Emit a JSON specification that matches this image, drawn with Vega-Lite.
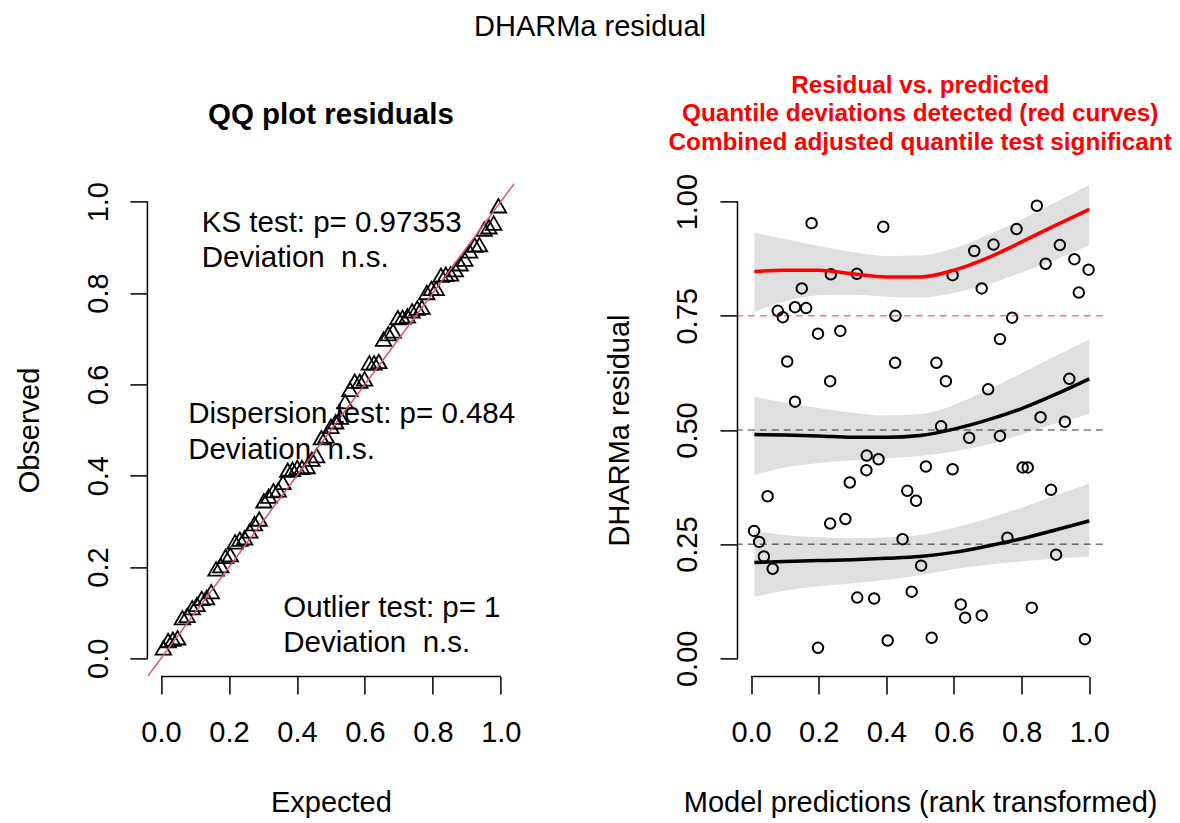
{
  "$schema": "https://vega.github.io/schema/vega-lite/v6.json",
  "autosize": {"type": "none"},
  "padding": {"left": 147.4, "top": 183.4, "right": 1032.6, "bottom": 639.6},
  "background": "white",
  "title": {"text": "DHARMa residual", "fontSize": 29, "fontWeight": "normal", "font": "Liberation Sans", "color": "black", "anchor": "start", "align": "center", "frame": "group", "dx": 442.6, "offset": 3.5, "baseline": "bottom"},
  "bounds": "flush",
  "spacing": 223.1,
  "datasets": {
    "qq": [
      {"e": 0.007, "o": 0.023}, {"e": 0.021, "o": 0.039}, {"e": 0.035, "o": 0.042}, {"e": 0.049, "o": 0.045},
      {"e": 0.063, "o": 0.089}, {"e": 0.077, "o": 0.094}, {"e": 0.092, "o": 0.111}, {"e": 0.106, "o": 0.118},
      {"e": 0.120, "o": 0.131}, {"e": 0.134, "o": 0.133}, {"e": 0.148, "o": 0.146}, {"e": 0.162, "o": 0.196},
      {"e": 0.176, "o": 0.203}, {"e": 0.190, "o": 0.223}, {"e": 0.204, "o": 0.227}, {"e": 0.218, "o": 0.255},
      {"e": 0.232, "o": 0.261}, {"e": 0.246, "o": 0.264}, {"e": 0.261, "o": 0.279}, {"e": 0.275, "o": 0.295},
      {"e": 0.289, "o": 0.305}, {"e": 0.303, "o": 0.345}, {"e": 0.317, "o": 0.355}, {"e": 0.331, "o": 0.367},
      {"e": 0.345, "o": 0.369}, {"e": 0.359, "o": 0.385}, {"e": 0.373, "o": 0.412}, {"e": 0.387, "o": 0.414},
      {"e": 0.401, "o": 0.418}, {"e": 0.415, "o": 0.418}, {"e": 0.430, "o": 0.420}, {"e": 0.444, "o": 0.436},
      {"e": 0.458, "o": 0.444}, {"e": 0.472, "o": 0.483}, {"e": 0.486, "o": 0.487}, {"e": 0.500, "o": 0.508},
      {"e": 0.514, "o": 0.518}, {"e": 0.528, "o": 0.528}, {"e": 0.542, "o": 0.562}, {"e": 0.556, "o": 0.589},
      {"e": 0.570, "o": 0.607}, {"e": 0.585, "o": 0.607}, {"e": 0.599, "o": 0.612}, {"e": 0.613, "o": 0.647},
      {"e": 0.627, "o": 0.647}, {"e": 0.641, "o": 0.650}, {"e": 0.655, "o": 0.699}, {"e": 0.669, "o": 0.711},
      {"e": 0.683, "o": 0.717}, {"e": 0.697, "o": 0.746}, {"e": 0.711, "o": 0.747}, {"e": 0.725, "o": 0.750},
      {"e": 0.739, "o": 0.761}, {"e": 0.754, "o": 0.767}, {"e": 0.768, "o": 0.769}, {"e": 0.782, "o": 0.801},
      {"e": 0.796, "o": 0.810}, {"e": 0.810, "o": 0.810}, {"e": 0.824, "o": 0.839}, {"e": 0.838, "o": 0.841},
      {"e": 0.852, "o": 0.842}, {"e": 0.866, "o": 0.851}, {"e": 0.880, "o": 0.864}, {"e": 0.894, "o": 0.874},
      {"e": 0.908, "o": 0.892}, {"e": 0.923, "o": 0.905}, {"e": 0.937, "o": 0.906}, {"e": 0.951, "o": 0.940},
      {"e": 0.965, "o": 0.945}, {"e": 0.979, "o": 0.953}, {"e": 0.993, "o": 0.991}
    ],
    "qqline": [{"x": -0.04, "y": -0.04}, {"x": 1.04, "y": 1.04}],
    "qqtext": [
      {"x": 0.12, "y": 0.934, "label": "KS test: p= 0.97353"},
      {"x": 0.12, "y": 0.856, "label": "Deviation \u00a0n.s."},
      {"x": 0.08, "y": 0.516, "label": "Dispersion test: p= 0.484"},
      {"x": 0.08, "y": 0.436, "label": "Deviation \u00a0n.s."},
      {"x": 0.36, "y": 0.091, "label": "Outlier test: p= 1"},
      {"x": 0.36, "y": 0.0145, "label": "Deviation \u00a0n.s."}
    ],
    "res": [
      {"p": 0.179, "r": 0.953}, {"p": 0.391, "r": 0.945}, {"p": 0.236, "r": 0.841}, {"p": 0.313, "r": 0.842},
      {"p": 0.150, "r": 0.810}, {"p": 0.130, "r": 0.769}, {"p": 0.163, "r": 0.767}, {"p": 0.079, "r": 0.761},
      {"p": 0.094, "r": 0.747}, {"p": 0.427, "r": 0.750}, {"p": 0.198, "r": 0.711}, {"p": 0.264, "r": 0.717},
      {"p": 0.107, "r": 0.650}, {"p": 0.426, "r": 0.647}, {"p": 0.234, "r": 0.607}, {"p": 0.130, "r": 0.562},
      {"p": 0.845, "r": 0.991}, {"p": 0.785, "r": 0.940}, {"p": 0.717, "r": 0.906}, {"p": 0.660, "r": 0.892},
      {"p": 0.913, "r": 0.905}, {"p": 0.956, "r": 0.874}, {"p": 0.998, "r": 0.851}, {"p": 0.871, "r": 0.864},
      {"p": 0.596, "r": 0.839}, {"p": 0.682, "r": 0.810}, {"p": 0.969, "r": 0.801}, {"p": 0.772, "r": 0.746},
      {"p": 0.736, "r": 0.699}, {"p": 0.548, "r": 0.647}, {"p": 0.576, "r": 0.607}, {"p": 0.701, "r": 0.589},
      {"p": 0.941, "r": 0.612}, {"p": 0.856, "r": 0.528}, {"p": 0.928, "r": 0.518}, {"p": 0.562, "r": 0.508},
      {"p": 0.342, "r": 0.444}, {"p": 0.377, "r": 0.436}, {"p": 0.341, "r": 0.412}, {"p": 0.292, "r": 0.385},
      {"p": 0.049, "r": 0.355}, {"p": 0.462, "r": 0.367}, {"p": 0.488, "r": 0.345}, {"p": 0.234, "r": 0.295},
      {"p": 0.279, "r": 0.305}, {"p": 0.009, "r": 0.279}, {"p": 0.024, "r": 0.255}, {"p": 0.448, "r": 0.261},
      {"p": 0.038, "r": 0.223}, {"p": 0.064, "r": 0.196}, {"p": 0.314, "r": 0.133}, {"p": 0.364, "r": 0.131},
      {"p": 0.475, "r": 0.146}, {"p": 0.404, "r": 0.039}, {"p": 0.198, "r": 0.023}, {"p": 0.503, "r": 0.203},
      {"p": 0.645, "r": 0.483}, {"p": 0.736, "r": 0.487}, {"p": 0.517, "r": 0.420}, {"p": 0.596, "r": 0.414},
      {"p": 0.803, "r": 0.418}, {"p": 0.818, "r": 0.418}, {"p": 0.887, "r": 0.369}, {"p": 0.758, "r": 0.264},
      {"p": 0.902, "r": 0.227}, {"p": 0.620, "r": 0.118}, {"p": 0.633, "r": 0.089}, {"p": 0.682, "r": 0.094},
      {"p": 0.830, "r": 0.111}, {"p": 0.534, "r": 0.045}, {"p": 0.987, "r": 0.042}
    ],
    "hl": [{"q": 0.25}, {"q": 0.5}, {"q": 0.75}],
    "band": [
      {"q": 0.75, "x": 0.01, "fit": 0.847, "hi": 0.932, "lo": 0.759},
      {"q": 0.75, "x": 0.1, "fit": 0.850, "hi": 0.918, "lo": 0.782},
      {"q": 0.75, "x": 0.2, "fit": 0.850, "hi": 0.903, "lo": 0.795},
      {"q": 0.75, "x": 0.3, "fit": 0.842, "hi": 0.890, "lo": 0.796},
      {"q": 0.75, "x": 0.4, "fit": 0.835, "hi": 0.881, "lo": 0.792},
      {"q": 0.75, "x": 0.5, "fit": 0.835, "hi": 0.882, "lo": 0.790},
      {"q": 0.75, "x": 0.6, "fit": 0.850, "hi": 0.898, "lo": 0.800},
      {"q": 0.75, "x": 0.7, "fit": 0.877, "hi": 0.927, "lo": 0.819},
      {"q": 0.75, "x": 0.8, "fit": 0.912, "hi": 0.961, "lo": 0.845},
      {"q": 0.75, "x": 0.9, "fit": 0.948, "hi": 0.998, "lo": 0.873},
      {"q": 0.75, "x": 1.0, "fit": 0.983, "hi": 1.037, "lo": 0.905},
      {"q": 0.5, "x": 0.01, "fit": 0.490, "hi": 0.573, "lo": 0.401},
      {"q": 0.5, "x": 0.1, "fit": 0.489, "hi": 0.560, "lo": 0.418},
      {"q": 0.5, "x": 0.2, "fit": 0.487, "hi": 0.548, "lo": 0.428},
      {"q": 0.5, "x": 0.3, "fit": 0.484, "hi": 0.538, "lo": 0.434},
      {"q": 0.5, "x": 0.4, "fit": 0.484, "hi": 0.532, "lo": 0.438},
      {"q": 0.5, "x": 0.5, "fit": 0.488, "hi": 0.535, "lo": 0.443},
      {"q": 0.5, "x": 0.6, "fit": 0.502, "hi": 0.555, "lo": 0.453},
      {"q": 0.5, "x": 0.7, "fit": 0.522, "hi": 0.588, "lo": 0.468},
      {"q": 0.5, "x": 0.8, "fit": 0.547, "hi": 0.625, "lo": 0.490},
      {"q": 0.5, "x": 0.9, "fit": 0.578, "hi": 0.662, "lo": 0.514},
      {"q": 0.5, "x": 1.0, "fit": 0.612, "hi": 0.698, "lo": 0.535},
      {"q": 0.25, "x": 0.01, "fit": 0.210, "hi": 0.279, "lo": 0.135},
      {"q": 0.25, "x": 0.1, "fit": 0.212, "hi": 0.270, "lo": 0.148},
      {"q": 0.25, "x": 0.2, "fit": 0.214, "hi": 0.265, "lo": 0.158},
      {"q": 0.25, "x": 0.3, "fit": 0.216, "hi": 0.263, "lo": 0.164},
      {"q": 0.25, "x": 0.4, "fit": 0.219, "hi": 0.265, "lo": 0.172},
      {"q": 0.25, "x": 0.5, "fit": 0.223, "hi": 0.270, "lo": 0.182},
      {"q": 0.25, "x": 0.6, "fit": 0.232, "hi": 0.286, "lo": 0.195},
      {"q": 0.25, "x": 0.7, "fit": 0.246, "hi": 0.306, "lo": 0.205},
      {"q": 0.25, "x": 0.8, "fit": 0.262, "hi": 0.330, "lo": 0.212},
      {"q": 0.25, "x": 0.9, "fit": 0.281, "hi": 0.357, "lo": 0.218},
      {"q": 0.25, "x": 1.0, "fit": 0.301, "hi": 0.383, "lo": 0.223}
    ]
  },
  "hconcat": [
    {
      "width": 367,
      "height": 493.2,
      "title": {"text": "QQ plot residuals", "fontSize": 29.5, "fontWeight": "bold", "font": "Liberation Sans", "color": "black", "baseline": "bottom", "offset": 22, "anchor": "middle"},
      "layer": [
        {
          "data": {"name": "qq"},
          "mark": {"type": "point", "shape": "triangle-up", "size": 240, "filled": false, "stroke": "black", "strokeWidth": 1.8, "opacity": 1},
          "encoding": {
            "x": {"field": "e", "type": "quantitative", "scale": {"domain": [-0.04, 1.04], "nice": false, "zero": false},
              "axis": {"values": [0, 0.2, 0.4, 0.6, 0.8, 1], "format": ".1f", "labelBaseline": "alphabetic", "labelPadding": 47.2,
                "title": "Expected", "titleBaseline": "alphabetic", "titleAlign": "center", "titleX": 183.5, "titleY": 135}},
            "y": {"field": "o", "type": "quantitative", "scale": {"domain": [-0.04, 1.04], "nice": false, "zero": false},
              "axis": {"values": [0, 0.2, 0.4, 0.6, 0.8, 1], "format": ".1f", "labelAngle": 270, "labelAlign": "center", "labelBaseline": "alphabetic", "labelPadding": 22,
                "title": "Observed", "titleAngle": 270, "titleBaseline": "alphabetic", "titleAlign": "center", "titleX": -109.4, "titleY": 246.6}}
          }
        },
        {
          "data": {"name": "qqline"},
          "mark": {"type": "line", "color": "#DF536B", "strokeWidth": 1.5, "clip": true},
          "encoding": {
            "x": {"field": "x", "type": "quantitative", "scale": {"domain": [-0.04, 1.04], "nice": false, "zero": false}},
            "y": {"field": "y", "type": "quantitative", "scale": {"domain": [-0.04, 1.04], "nice": false, "zero": false}}
          }
        },
        {
          "data": {"name": "qqtext"},
          "mark": {"type": "text", "align": "left", "baseline": "alphabetic", "fontSize": 29.5, "font": "Liberation Sans", "color": "black"},
          "encoding": {
            "x": {"field": "x", "type": "quantitative", "scale": {"domain": [-0.04, 1.04], "nice": false, "zero": false}},
            "y": {"field": "y", "type": "quantitative", "scale": {"domain": [-0.04, 1.04], "nice": false, "zero": false}},
            "text": {"field": "label"}
          }
        },
        {
          "data": {"values": [{}]},
          "mark": {"type": "rule", "color": "black", "strokeWidth": 1.5},
          "encoding": {
            "x": {"datum": 0, "type": "quantitative", "scale": {"domain": [-0.04, 1.04], "nice": false, "zero": false}},
            "x2": {"datum": 1},
            "y": {"datum": -0.04, "type": "quantitative", "scale": {"domain": [-0.04, 1.04], "nice": false, "zero": false}}
          }
        },
        {
          "data": {"values": [{}]},
          "mark": {"type": "rule", "color": "black", "strokeWidth": 1.5},
          "encoding": {
            "x": {"datum": -0.04, "type": "quantitative", "scale": {"domain": [-0.04, 1.04], "nice": false, "zero": false}},
            "y": {"datum": 0, "type": "quantitative", "scale": {"domain": [-0.04, 1.04], "nice": false, "zero": false}},
            "y2": {"datum": 1}
          }
        }
      ]
    },
    {
      "width": 365.3,
      "height": 493.2,
      "title": {"text": ["Residual vs. predicted", "Quantile deviations detected (red curves)", "Combined adjusted quantile test significant"], "fontSize": 24.3, "fontWeight": "bold", "font": "Liberation Sans", "color": "#FF0000", "lineHeight": 28.3, "baseline": "bottom", "offset": -5.6, "anchor": "middle"},
      "layer": [
        {
          "data": {"name": "res"},
          "mark": {"type": "point", "shape": "circle", "size": 110, "filled": false, "stroke": "black", "strokeWidth": 2, "opacity": 1},
          "encoding": {
            "x": {"field": "p", "type": "quantitative", "scale": {"domain": [-0.04, 1.04], "nice": false, "zero": false},
              "axis": {"values": [0, 0.2, 0.4, 0.6, 0.8, 1], "format": ".1f", "labelBaseline": "alphabetic", "labelPadding": 47.2,
                "title": "Model predictions (rank transformed)", "titleBaseline": "alphabetic", "titleAlign": "center", "titleX": 182.6, "titleY": 135}},
            "y": {"field": "r", "type": "quantitative", "scale": {"domain": [-0.04, 1.04], "nice": false, "zero": false},
              "axis": {"values": [0, 0.25, 0.5, 0.75, 1], "format": ".2f", "labelAngle": 270, "labelAlign": "center", "labelBaseline": "alphabetic", "labelPadding": 23,
                "title": "DHARMa residual", "titleAngle": 270, "titleBaseline": "alphabetic", "titleAlign": "center", "titleX": -109, "titleY": 246.6}}
          }
        },
        {
          "data": {"name": "hl"},
          "mark": {"type": "rule", "strokeWidth": 1, "strokeDash": [7, 5], "opacity": 0.8},
          "encoding": {
            "y": {"field": "q", "type": "quantitative", "scale": {"domain": [-0.04, 1.04], "nice": false, "zero": false}},
            "color": {"field": "q", "type": "nominal", "scale": {"domain": [0.25, 0.5, 0.75], "range": ["#000000", "#000000", "#FF0000"]}, "legend": null}
          }
        },
        {
          "data": {"name": "band"},
          "mark": {"type": "area", "color": "#000000", "opacity": 0.125, "interpolate": "monotone"},
          "encoding": {
            "x": {"field": "x", "type": "quantitative", "scale": {"domain": [-0.04, 1.04], "nice": false, "zero": false}},
            "y": {"field": "hi", "type": "quantitative", "scale": {"domain": [-0.04, 1.04], "nice": false, "zero": false}},
            "y2": {"field": "lo"},
            "detail": {"field": "q", "type": "nominal"}
          }
        },
        {
          "data": {"name": "band"},
          "mark": {"type": "line", "strokeWidth": 3.5, "interpolate": "monotone"},
          "encoding": {
            "x": {"field": "x", "type": "quantitative", "scale": {"domain": [-0.04, 1.04], "nice": false, "zero": false}},
            "y": {"field": "fit", "type": "quantitative", "scale": {"domain": [-0.04, 1.04], "nice": false, "zero": false}},
            "color": {"field": "q", "type": "nominal", "scale": {"domain": [0.25, 0.5, 0.75], "range": ["#000000", "#000000", "#FF0000"]}, "legend": null}
          }
        },
        {
          "data": {"values": [{}]},
          "mark": {"type": "rule", "color": "black", "strokeWidth": 1.5},
          "encoding": {
            "x": {"datum": 0, "type": "quantitative", "scale": {"domain": [-0.04, 1.04], "nice": false, "zero": false}},
            "x2": {"datum": 1},
            "y": {"datum": -0.04, "type": "quantitative", "scale": {"domain": [-0.04, 1.04], "nice": false, "zero": false}}
          }
        },
        {
          "data": {"values": [{}]},
          "mark": {"type": "rule", "color": "black", "strokeWidth": 1.5},
          "encoding": {
            "x": {"datum": -0.04, "type": "quantitative", "scale": {"domain": [-0.04, 1.04], "nice": false, "zero": false}},
            "y": {"datum": 0, "type": "quantitative", "scale": {"domain": [-0.04, 1.04], "nice": false, "zero": false}},
            "y2": {"datum": 1}
          }
        }
      ]
    }
  ],
  "config": {
    "view": {"stroke": null},
    "font": "Liberation Sans",
    "axis": {"grid": false, "domain": false, "ticks": true, "tickColor": "black", "tickWidth": 1.5, "tickSize": 17.5,
      "labelColor": "black", "labelFontSize": 29, "labelFont": "Liberation Sans", "labelFlush": false, "labelOverlap": false, "labelBound": false,
      "titleFont": "Liberation Sans", "titleFontSize": 29, "titleFontWeight": "normal", "titleColor": "black"}
  }
}
